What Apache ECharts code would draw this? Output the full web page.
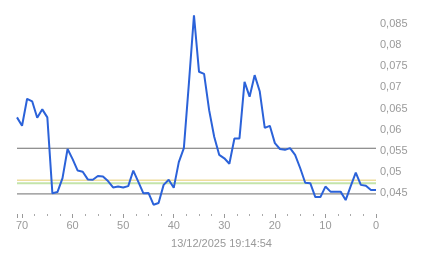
<!DOCTYPE html>
<html>
<head>
<meta charset="utf-8">
<script src="https://cdn.jsdelivr.net/npm/echarts@6/dist/echarts.min.js"></script>
<style>html,body{margin:0;padding:0;background:#fff}#c{width:443px;height:258px}</style>
</head>
<body>
<div id="c"></div>
<script>
var steps = [71,70,69,68,67,66,65,64,63,62,61,60,59,58,57,56,55,54,53,52,51,50,49,48,47,46,45,44,43,42,41,40,39,38,37,36,35,34,33,32,31,30,29,28,27,26,25,24,23,22,21,20,19,18,17,16,15,14,13,12,11,10,9,8,7,6,5,4,3,2,1,0];
var values = [0.0629,0.0609,0.0673,0.0667,0.0628,0.0648,0.0629,0.0449,0.0452,0.0485,0.0554,0.0530,0.0503,0.0500,0.0482,0.0481,0.0490,0.0489,0.0478,0.0463,0.0465,0.0463,0.0466,0.0503,0.0476,0.0449,0.0450,0.0422,0.0426,0.0469,0.0481,0.0462,0.0523,0.0556,0.0710,0.0871,0.0737,0.0732,0.0646,0.0583,0.0540,0.0532,0.0519,0.0579,0.0579,0.0713,0.0678,0.0729,0.0691,0.0604,0.0609,0.0568,0.0554,0.0552,0.0556,0.0540,0.0509,0.0474,0.0473,0.0440,0.0440,0.0465,0.0453,0.0453,0.0453,0.0433,0.0466,0.0498,0.0469,0.0467,0.0457,0.0457];
var levelNames = ['upper','yellow','green','lower'];
var levelValues = [0.05558,0.04800,0.04728,0.04476];
var levelColors = ['#6e6e6e','#eedc9c','#c4e4aa','#6e6e6e'];
var levelWidths = [1,1.5,2,1];
var timestamp = '13/12/2025 19:14:54';

var lineData = steps.map(function(s,i){return [s, values[i]];});
var series = [];
levelValues.forEach(function(v,i){
  series.push({
    name: levelNames[i], type:'line', symbol:'none', silent:true,
    data:[[steps[0],v],[steps[steps.length-1],v]],
    lineStyle:{color:levelColors[i], width:levelWidths[i]}, z:1
  });
});
series.push({
  name:'value', type:'line', symbol:'none', data: lineData,
  lineStyle:{color:'#2b62d9', width:2}, z:5
});

var chart = echarts.init(document.getElementById('c'), null, {renderer:'canvas'});
chart.setOption({
  animation:false,
  backgroundColor:'#fff',
  title:{text:timestamp, left:'center', top:233, textStyle:{color:'#999', fontSize:11, fontWeight:'normal', fontFamily:'Liberation Sans, Arial, sans-serif'}},
  grid:{left:17, right:67, top:3, bottom:44},
  xAxis:{
    type:'value', min:0, max:71, interval:10, inverse:true,
    axisLine:{show:false},
    axisTick:{show:true, length:4, lineStyle:{color:'#999'}},
    minorTick:{show:true, splitNumber:4, length:2, lineStyle:{color:'#aaa'}},
    splitLine:{show:false},
    axisLabel:{color:'#9a9a9a', fontSize:11, margin:6, showMaxLabel:false, fontFamily:'Liberation Sans, Arial, sans-serif'}
  },
  yAxis:{
    type:'value', position:'right', min:0.04, max:0.09, interval:0.005,
    axisLine:{show:false}, axisTick:{show:false}, splitLine:{show:false},
    axisLabel:{color:'#9a9a9a', fontSize:11, margin:4, showMinLabel:false, showMaxLabel:false,
      fontFamily:'Liberation Sans, Arial, sans-serif',
      formatter:function(v){return String(parseFloat(v.toFixed(3))).replace('.',',');}}
  },
  series: series
});
</script>
</body>
</html>
